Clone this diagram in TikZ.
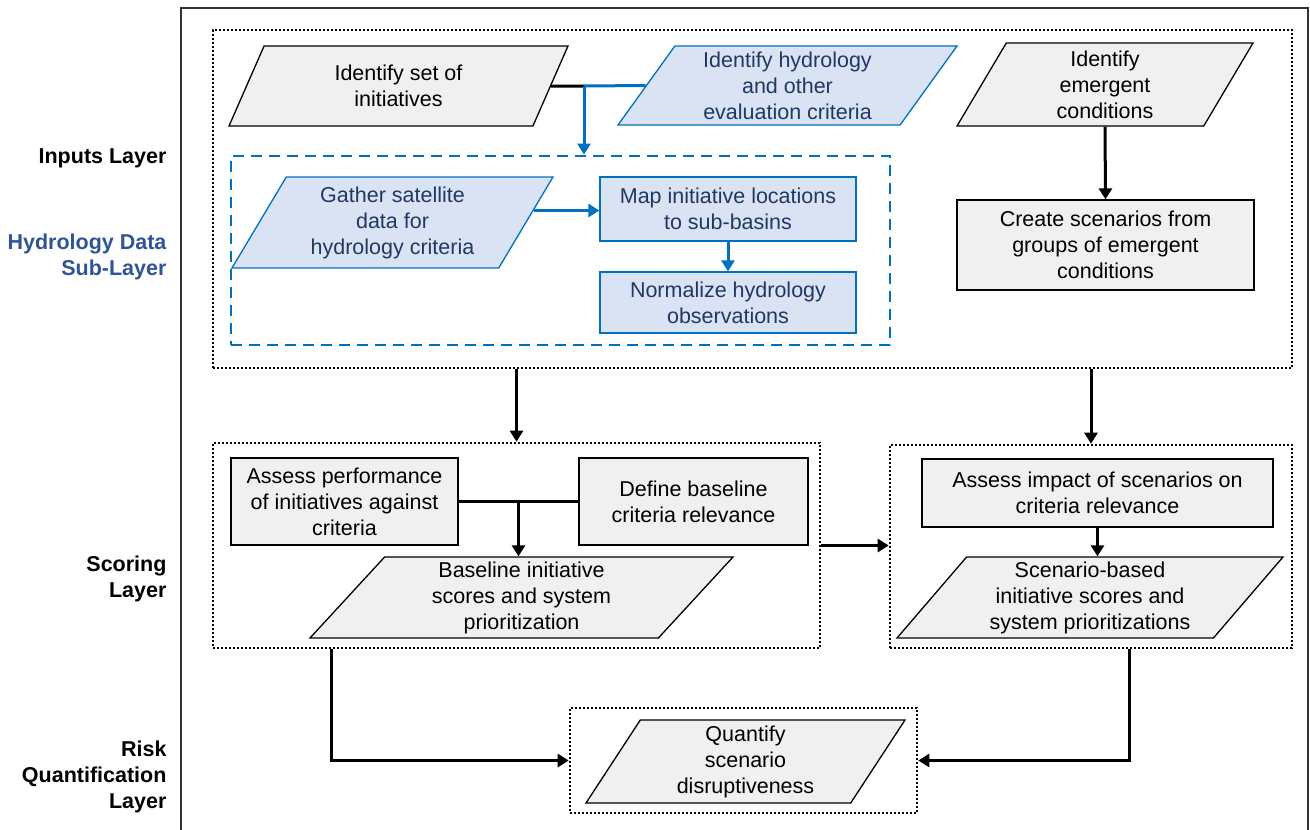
\documentclass[tikz,border=0pt]{standalone}
\usepackage{fontspec}
\setmainfont{Liberation Sans}
\usetikzlibrary{shapes.geometric,arrows.meta,calc}

\definecolor{boxgray}{HTML}{F0F0F0}
\definecolor{hydfill}{HTML}{DAE3F3}
\definecolor{hydline}{HTML}{0070C0}
\definecolor{hydtext}{HTML}{1F3864}
\definecolor{labblue}{HTML}{2F5597}
\newcommand{\boxfont}{\fontsize{21.5}{26}\selectfont}

\tikzset{
    proc/.style={draw, line width=1.3pt, fill=boxgray, align=center, inner sep=0pt, font=\boxfont},
    iodata/.style={trapezium, trapezium stretches body, trapezium left angle=#1,
        trapezium right angle={180-#1}, draw, line width=1.3pt, fill=boxgray,
        align=center, inner sep=0pt, font=\boxfont},
    hydproc/.style={proc, draw=hydline, fill=hydfill, text=hydtext},
    hyddata/.style={iodata=#1, draw=hydline, fill=hydfill, text=hydtext},
    layerbox/.style={draw, line width=2.6pt, dash pattern=on 2.1pt off 1.9pt, inner sep=0pt},
    hydgroup/.style={draw=hydline, line width=2.8pt, dash pattern=on 11pt off 7pt, inner sep=0pt},
    layerlabel/.style={anchor=east, align=right, font=\boxfont\bfseries},
    conn/.style={line width=3pt},
    hydconn/.style={line width=3pt, draw=hydline}
}

\begin{document}
\begin{tikzpicture}[x=1pt, y=-1pt, >={Triangle[width=13pt,length=11pt]}]
\useasboundingbox (0,0) rectangle (1310,830);

% outer frame
\draw[line width=1.5pt, black!80] (181,840) -- (181,8) -- (1308,8) -- (1308,840);

% layer labels
\node[layerlabel] (lblinputs) at (170,158) {Inputs Layer};
\node[layerlabel, text=labblue] (lblhyd) at (170,257) {Hydrology Data\\Sub-Layer};
\node[layerlabel] (lblscore) at (170,579) {Scoring\\Layer};
\node[layerlabel] (lblrisk) at (170,777) {Risk\\Quantification\\Layer};

% layer boxes
\node[layerbox, minimum width=1079pt, minimum height=338pt] (inputs) at (752.5,199) {};
\node[hydgroup, minimum width=659pt, minimum height=189pt] (hydbox) at (560.5,250.5) {};
\node[layerbox, minimum width=607pt, minimum height=205pt] (scoreL) at (516.5,545.5) {};
\node[layerbox, minimum width=402pt, minimum height=203pt] (scoreR) at (1091,546.5) {};
\node[layerbox, minimum width=347pt, minimum height=105pt] (risk) at (743.5,760.5) {};

% inputs layer
\node[iodata=50, minimum width=339pt, minimum height=80pt] (init) at (398.5,86) {Identify set of\\initiatives};
\node[hyddata=50, minimum width=339pt, minimum height=79pt] (crit) at (787.5,85.5) {Identify hydrology\\and other\\evaluation criteria};
\node[iodata=54, minimum width=296pt, minimum height=83pt] (emerg) at (1105,84.5) {Identify\\emergent\\conditions};
\node[proc, minimum width=297pt, minimum height=90pt] (create) at (1105.5,245) {Create scenarios from\\groups of emergent\\conditions};

% hydrology data sub-layer
\node[hyddata=53, minimum width=321pt, minimum height=91pt] (gather) at (392.5,222.5) {Gather satellite\\data for\\hydrology criteria};
\node[hydproc, minimum width=256pt, minimum height=64pt] (map) at (728,209) {Map initiative locations\\to sub-basins};
\node[hydproc, minimum width=256pt, minimum height=61pt] (norm) at (728,302.5) {Normalize hydrology\\observations};

% scoring layer
\node[proc, minimum width=227pt, minimum height=87pt] (perf) at (344.5,501.5) {Assess performance\\of initiatives against\\criteria};
\node[proc, minimum width=229pt, minimum height=87pt] (relev) at (693.5,501.5) {Define baseline\\criteria relevance};
\node[iodata=44, minimum width=423pt, minimum height=81pt] (base) at (521.5,597.5) {Baseline initiative\\scores and system\\prioritization};
\node[proc, minimum width=351pt, minimum height=68pt] (impact) at (1097.5,493) {Assess impact of scenarios on\\criteria relevance};
\node[iodata=46, minimum width=386pt, minimum height=81pt] (scenb) at (1090,597.5) {Scenario-based\\initiative scores and\\system prioritizations};

% risk quantification layer
\node[iodata=53, minimum width=319pt, minimum height=83pt] (quant) at (745.5,761.5) {Quantify\\scenario\\disruptiveness};

% connectors
\coordinate (jn) at (584,86);
\coordinate (jnscore) at ($(perf.east)!0.5!(relev.west)$);
\coordinate (gatherout) at ($(gather.top right corner)!0.37!(gather.bottom right corner)$);
\draw[conn] (init.east) -- (jn);
\draw[hydconn] (crit.west) -- (jn);
\draw[hydconn, ->] (jn) -- (jn |- hydbox.north);
\draw[hydconn, ->] (gatherout) -- (gatherout -| map.west);
\draw[hydconn, ->] (map.south) -- (norm.north);
\draw[conn, ->] (emerg.south) -- (create.north);
\draw[conn, ->] (inputs.south -| scoreL.north) -- (scoreL.north);
\draw[conn, ->] (inputs.south -| scoreR.north) -- (scoreR.north);
\draw[conn] (perf.east) -- (relev.west);
\draw[conn, ->] (jnscore) -- (jnscore |- base.north);
\draw[conn, ->] (impact.south) -- (impact.south |- scenb.north);
\draw[conn, ->] (scoreL.east) -- (scoreR.west |- scoreL.east);
\draw[conn, ->] ([xshift=120pt]scoreL.south west) |- (risk.west);
\draw[conn, ->] ([xshift=-164pt]scoreR.south east) |- (risk.east);
\end{tikzpicture}
\end{document}
